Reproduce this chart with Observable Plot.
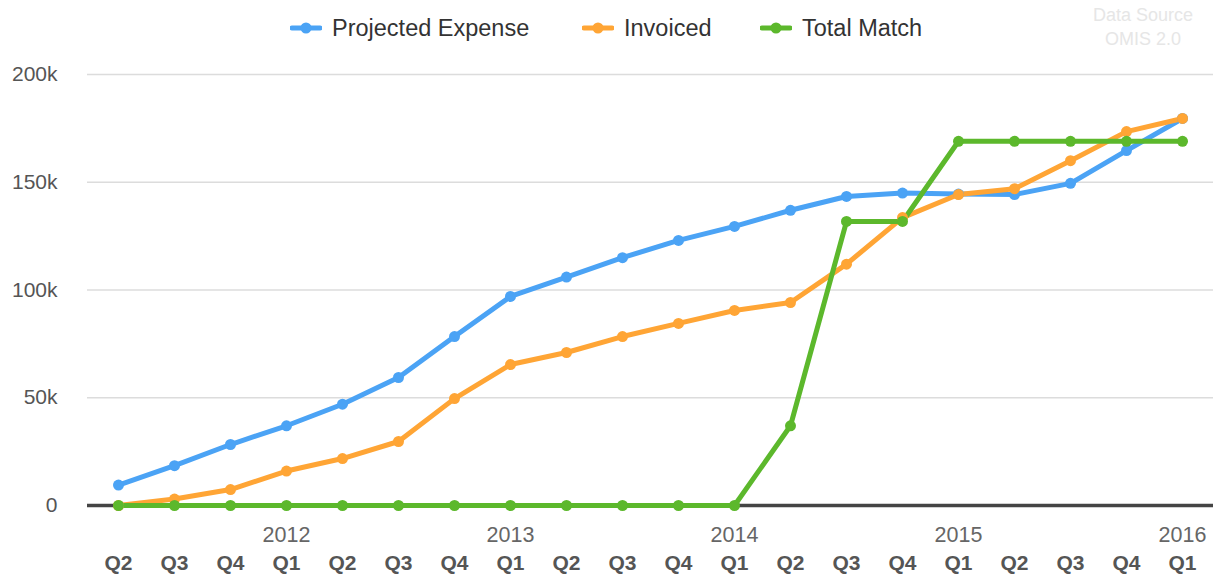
<!DOCTYPE html>
<html>
<head>
<meta charset="utf-8">
<script src="https://cdn.jsdelivr.net/npm/d3@7"></script>
<script src="https://cdn.jsdelivr.net/npm/@observablehq/plot@0.6"></script>
<style>
  body { margin: 0; background: #fff; font-family: "Liberation Sans", Arial, sans-serif; }
  #wrap { position: relative; width: 1222px; height: 580px; }
  #legend { position: absolute; left: 0; top: 0; width: 1222px; height: 50px; }
  .item { position: absolute; top: 14px; height: 28px; display: flex; align-items: center; font-size: 23.5px; color: #333; white-space: nowrap; }
  .item svg { margin-right: 10px; }
  #source { position: absolute; top: 3px; left: 1073px; width: 140px; text-align: center; font-size: 18px; line-height: 24px; color: #e6e6e6; }
  #chart { position: absolute; left: 0; top: 50px; }
</style>
</head>
<body>
<div id="wrap">
  <div id="legend"></div>
  <div id="source">Data Source<br>OMIS 2.0</div>
  <div id="chart"></div>
</div>
<script>
const quarters = ["Q2","Q3","Q4","Q1","Q2","Q3","Q4","Q1","Q2","Q3","Q4","Q1","Q2","Q3","Q4","Q1","Q2","Q3","Q4","Q1"];
const years    = [2011,2011,2011,2012,2012,2012,2012,2013,2013,2013,2013,2014,2014,2014,2014,2015,2015,2015,2015,2016];
const projected = [9500,18500,28300,37000,47000,59400,78400,97000,106000,115000,123000,129500,137000,143400,145000,144500,144300,149500,164700,179600];
const invoiced  = [0,3000,7400,16000,21800,29700,49600,65400,71000,78400,84500,90500,94200,112000,133600,144300,147000,160000,173500,179600];
const totalMatch = [0,0,0,0,0,0,0,0,0,0,0,0,37000,131800,131800,169000,169000,169000,169000,169000];
const seriesNames = ["Projected Expense","Invoiced","Total Match"];
const seriesColors = ["#4ba3f5","#ffa535","#5cb82c"];
const yTicks = [0,50000,100000,150000,200000];

const keys = quarters.map((q,i) => years[i] + " " + q);
const seriesValues = [projected, invoiced, totalMatch];
const data = [];
seriesNames.forEach((name, s) => {
  seriesValues[s].forEach((v, i) => data.push({series: name, key: keys[i], value: v}));
});
const q1Keys = keys.filter((k,i) => quarters[i] === "Q1");

// legend
const legendPos = [290, 582, 760];
const legend = document.getElementById("legend");
seriesNames.forEach((name, i) => {
  const d = document.createElement("div");
  d.className = "item";
  d.style.left = legendPos[i] + "px";
  d.innerHTML = `<svg width="32" height="14"><line x1="2" y1="7" x2="30" y2="7" stroke="${seriesColors[i]}" stroke-width="5" stroke-linecap="round"/><circle cx="16" cy="7" r="5.5" fill="${seriesColors[i]}"/></svg><span>${name}</span>`;
  legend.appendChild(d);
});

const color = {domain: seriesNames, range: seriesColors};
const font = "'Liberation Sans', Arial, sans-serif";

const chart = Plot.plot({
  width: 1222,
  height: 530,
  marginTop: 24,
  marginBottom: 75,
  marginLeft: 87,
  marginRight: 9,
  style: {fontFamily: font, background: "#fff", overflow: "visible"},
  x: {type: "point", domain: keys, padding: 0.5, axis: null},
  y: {domain: [0, 200000], axis: null},
  color,
  marks: [
    Plot.gridY(yTicks.filter(d => d > 0), {stroke: "#dcdcdc", strokeOpacity: 1, strokeWidth: 1.5}),
    Plot.ruleY([0], {stroke: "#444", strokeWidth: 3.5}),
    Plot.text(yTicks, {
      y: d => d, frameAnchor: "left", dx: -30, textAnchor: "end",
      fontSize: 21, fill: "#555",
      text: d => d === 0 ? "0" : d / 1000 + "k"
    }),
    Plot.text(keys, {
      x: d => d, frameAnchor: "bottom", dy: 64,
      fontSize: 21, fontWeight: "bold", fill: "#555",
      text: k => k.split(" ")[1]
    }),
    Plot.text(q1Keys, {
      x: d => d, frameAnchor: "bottom", dy: 36,
      fontSize: 21.5, fill: "#666",
      text: k => k.split(" ")[0]
    }),
    Plot.line(data, {x: "key", y: "value", z: "series", stroke: "series", strokeWidth: 5, strokeLinejoin: "round", strokeLinecap: "round"}),
    Plot.dot(data, {x: "key", y: "value", fill: "series", r: 5.5, stroke: null})
  ]
});
document.getElementById("chart").appendChild(chart);
</script>
</body>
</html>
